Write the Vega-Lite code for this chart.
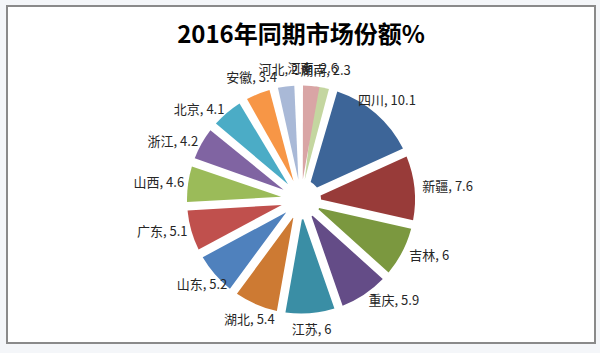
{
  "$schema": "https://vega.github.io/schema/vega-lite/v6.json",
  "width": 600,
  "height": 353,
  "autosize": {"type": "fit", "contains": "padding"},
  "padding": {"left": 7, "top": 6, "right": 5, "bottom": 10},
  "background": "#f4f6f9",
  "view": {"style": "cell"},
  "config": {
    "view": {"fill": "white", "stroke": "#8a8a8a", "strokeWidth": 2},
    "style": {"view": {"fill": "white", "stroke": "#8a8a8a", "strokeWidth": 2}},
    "font": "Noto Sans CJK SC"
  },
  "title": {
    "text": "2016年同期市场份额%",
    "font": "Noto Sans CJK SC",
    "fontSize": 24,
    "fontWeight": "bold",
    "color": "#000000",
    "offset": -42,
    "anchor": "middle"
  },
  "data": {
    "values": [
      {"省份": "湖南", "份额": 2.3},
      {"省份": "四川", "份额": 10.1},
      {"省份": "新疆", "份额": 7.6},
      {"省份": "吉林", "份额": 6},
      {"省份": "重庆", "份额": 5.9},
      {"省份": "江苏", "份额": 6},
      {"省份": "湖北", "份额": 5.4},
      {"省份": "山东", "份额": 5.2},
      {"省份": "广东", "份额": 5.1},
      {"省份": "山西", "份额": 4.6},
      {"省份": "浙江", "份额": 4.2},
      {"省份": "北京", "份额": 4.1},
      {"省份": "安徽", "份额": 3.4},
      {"省份": "河北", "份额": 2.6},
      {"省份": "河南", "份额": 2.6}
    ]
  },
  "transform": [
    {"window": [{"op": "row_number", "as": "i"}]},
    {"stack": "份额", "groupby": [], "sort": [{"field": "i", "order": "ascending"}], "as": ["t0", "t1"]},
    {"calculate": "(datum.t0 + datum.t1) / 2", "as": "tm"},
    {"calculate": "datum['省份'] + ', ' + datum['份额']", "as": "label"}
  ],
  "layer": [
    {
      "mark": {"type": "arc", "outerRadius": 114, "innerRadius": 20, "padAngle": 0.075, "yOffset": 25},
      "encoding": {
        "theta": {"field": "t0", "type": "quantitative", "scale": {"range": [0.09, 6.3732]}},
        "theta2": {"field": "t1"},
        "color": {
          "field": "省份",
          "type": "nominal",
          "legend": null,
          "scale": {
            "domain": ["山东", "广东", "山西", "浙江", "北京", "安徽", "河北", "河南", "湖南", "四川", "新疆", "吉林", "重庆", "江苏", "湖北"],
            "range": ["#4f81bd", "#c0504d", "#9bbb59", "#8064a2", "#4bacc6", "#f79646", "#a9b9d7", "#d9a5a5", "#c4d6a0", "#3d6598", "#983b39", "#7b983f", "#644c87", "#3a8ea5", "#cd7a33"]
          }
        }
      }
    },
    {
      "transform": [{"filter": {"field": "省份", "oneOf": ["湖南", "四川", "江苏", "湖北", "山东", "安徽", "河北", "河南"]}}],
      "mark": {"type": "text", "radius": 131, "align": "center", "baseline": "middle", "fontSize": 13, "color": "#262626", "yOffset": 25},
      "encoding": {
        "theta": {"field": "tm", "type": "quantitative", "stack": null},
        "text": {"field": "label"}
      }
    },
    {
      "transform": [{"filter": {"field": "省份", "oneOf": ["新疆", "吉林", "重庆"]}}],
      "mark": {"type": "text", "radius": 122, "align": "left", "baseline": "middle", "fontSize": 13, "color": "#262626", "yOffset": 25},
      "encoding": {
        "theta": {"field": "tm", "type": "quantitative", "stack": null},
        "text": {"field": "label"}
      }
    },
    {
      "transform": [{"filter": {"field": "省份", "oneOf": ["广东", "山西", "浙江", "北京"]}}],
      "mark": {"type": "text", "radius": 118, "align": "right", "baseline": "middle", "fontSize": 13, "color": "#262626", "yOffset": 25},
      "encoding": {
        "theta": {"field": "tm", "type": "quantitative", "stack": null},
        "text": {"field": "label"}
      }
    }
  ]
}
